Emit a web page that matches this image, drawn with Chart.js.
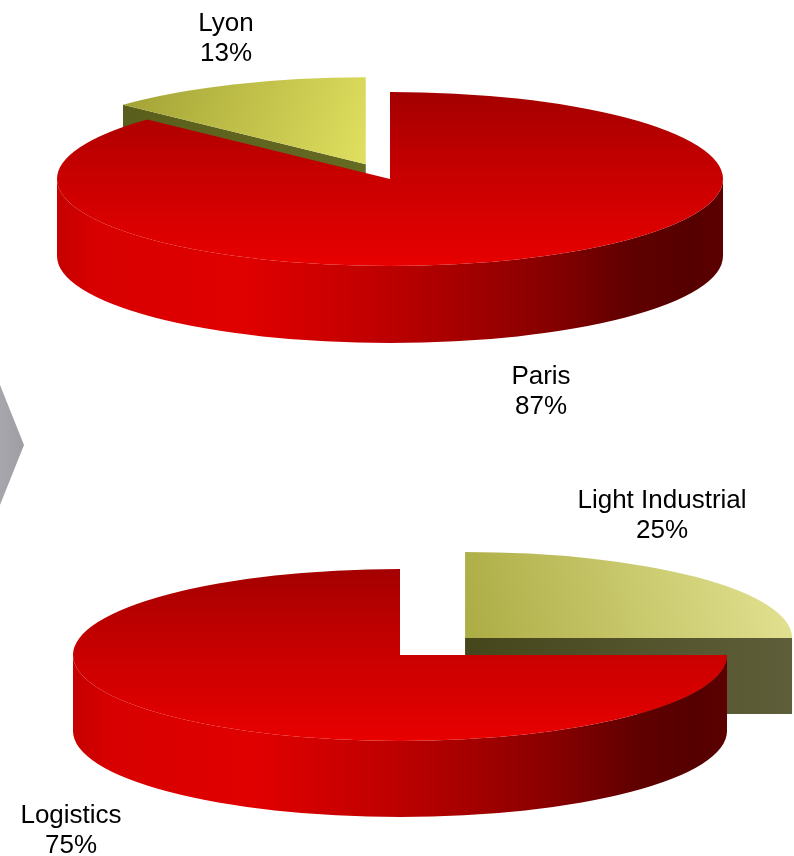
<!DOCTYPE html>
<html>
<head>
<meta charset="utf-8">
<script src="https://cdn.jsdelivr.net/npm/chart.js@4.4.1/dist/chart.umd.min.js"></script>
<style>
    body { margin: 0; background: #fff; }
    #wrap { position: relative; width: 794px; height: 856px; overflow: hidden; }
    canvas { position: absolute; left: 0; }
    #cityChart { top: 0; }
    #typeChart { top: 428px; }
    .chevron {
        position: absolute; left: 0; top: 385px; width: 24px; height: 120px;
        clip-path: polygon(0 0, 100% 50%, 0 100%);
        background: linear-gradient(90deg, #a6a6ac, #9e9ea5);
    }
</style>
</head>
<body>
<div id="wrap">
    <canvas id="cityChart" width="794" height="428"></canvas>
    <canvas id="typeChart" width="794" height="428"></canvas>
    <div class="chevron"></div>
</div>
<script>
// split by city
const cityLabels = ['Paris', 'Lyon'];
const cityShares = [87, 13];
const cityOffsets = [0, 61];

// split by asset type
const typeLabels = ['Light Industrial', 'Logistics'];
const typeShares = [25, 75];
const typeOffsets = [92, 0];

const redShade = {
    top: { from: [0, -1], to: [0, 1], stops: [[0, '#a40000'], [0.45, '#c60000'], [1, '#e80000']] },
    side: [[0, '#c60000'], [0.06, '#d80000'], [0.28, '#e00000'], [0.48, '#c00000'], [0.62, '#a20000'],
           [0.74, '#860000'], [0.86, '#600000'], [0.95, '#550000'], [1, '#5c0000']],
    face: ['#7a0000', '#a00000']
};
const lyonShade = {
    top: { from: [-0.75, -0.9], to: [0, 0.1], stops: [[0, '#a0a034'], [1, '#e0e060']] },
    side: [[0, '#5a5e1e'], [1, '#6a6e26']],
    face: ['#5a5e1c', '#646a22']
};
const lightShade = {
    top: { from: [0, 0.2], to: [1, -0.7], stops: [[0, '#acac44'], [1, '#e2e292']] },
    side: [[0, '#4a4a20'], [1, '#5e5e3a']],
    face: ['#46461c', '#5e5e3a']
};

const labelFont = '26px "Liberation Sans", Arial, sans-serif';

function drawSlice(ctx, sl, geo, shade) {
    const { x, y, s, e } = sl;
    const rx = geo.rx, ry = geo.ry, depth = geo.depth;
    const rim = a => [x + rx * Math.cos(a), y + ry * Math.sin(a)];

    // flat cut faces that turn toward the viewer
    [[s, -Math.cos(s)], [e, Math.cos(e)]].forEach(([a, facing]) => {
        if (facing <= 0.001) return;
        const [px, py] = rim(a);
        ctx.beginPath();
        ctx.moveTo(x, y);
        ctx.lineTo(px, py);
        ctx.lineTo(px, py + depth);
        ctx.lineTo(x, y + depth);
        ctx.closePath();
        const g = ctx.createLinearGradient(Math.min(x, px), 0, Math.max(x, px) + 1, 0);
        g.addColorStop(0, shade.face[0]);
        g.addColorStop(1, shade.face[1]);
        ctx.fillStyle = g;
        ctx.fill();
    });

    // curved outer wall, front half only
    const a0 = Math.max(s, 0), a1 = Math.min(e, Math.PI);
    if (a1 > a0) {
        ctx.beginPath();
        ctx.ellipse(x, y, rx, ry, 0, a0, a1);
        ctx.ellipse(x, y + depth, rx, ry, 0, a1, a0, true);
        ctx.closePath();
        const g = ctx.createLinearGradient(x - rx, 0, x + rx, 0);
        shade.side.forEach(([p, c]) => g.addColorStop(p, c));
        ctx.fillStyle = g;
        ctx.fill();
    }

    // top face
    ctx.beginPath();
    ctx.moveTo(x, y);
    ctx.ellipse(x, y, rx, ry, 0, s, e);
    ctx.closePath();
    const t = shade.top;
    const g = ctx.createLinearGradient(x + t.from[0] * rx, y + t.from[1] * ry, x + t.to[0] * rx, y + t.to[1] * ry);
    t.stops.forEach(([p, c]) => g.addColorStop(p, c));
    ctx.fillStyle = g;
    ctx.fill();
}

const pie3d = {
    id: 'pie3d',
    beforeDatasetsDraw(chart, args, opts) {
        const ctx = chart.ctx;
        const meta = chart.getDatasetMeta(0);
        const ds = chart.data.datasets[0];
        const k = opts.ry / opts.rx;

        const slices = meta.data.map((arc, i) => {
            const mid = (arc.startAngle + arc.endAngle) / 2;
            const off = arc.options.offset || 0;
            return {
                i, mid,
                s: arc.startAngle,
                e: arc.endAngle,
                x: arc.x + Math.cos(mid) * off,
                y: arc.y + Math.sin(mid) * off * k
            };
        });

        // back slices first so the front ones cover them
        slices.sort((a, b) => Math.sin(a.mid) - Math.sin(b.mid));

        ctx.save();
        slices.forEach(sl => drawSlice(ctx, sl, opts, ds.shades[sl.i]));
        ctx.restore();
        return false;
    },
    afterDraw(chart, args, opts) {
        const ctx = chart.ctx;
        const ds = chart.data.datasets[0];
        ctx.save();
        ctx.font = labelFont;
        ctx.fillStyle = '#000';
        ctx.textAlign = 'center';
        ctx.textBaseline = 'alphabetic';
        chart.data.labels.forEach((label, i) => {
            const [lx, ly] = opts.labelAt[i];
            ctx.fillText(label, lx, ly);
            ctx.fillText(ds.data[i] + '%', lx, ly + 30);
        });
        ctx.restore();
    }
};

function makePie(id, labels, shares, offsets, shades, padding, geo) {
    const ctx = document.getElementById(id).getContext('2d');
    return new Chart(ctx, {
        type: 'pie',
        data: {
            labels: labels,
            datasets: [{
                data: shares,
                offset: offsets,
                shades: shades,
                backgroundColor: shades.map(s => s.top.stops[s.top.stops.length - 1][1]),
                borderWidth: 0
            }]
        },
        options: {
            responsive: false,
            animation: false,
            events: [],
            layout: { padding: padding },
            plugins: {
                legend: { display: false },
                tooltip: { enabled: false },
                pie3d: geo
            }
        },
        plugins: [pie3d]
    });
}

document.addEventListener('DOMContentLoaded', () => {
    makePie('cityChart', cityLabels, cityShares, cityOffsets, [redShade, lyonShade],
        { left: 0, right: 14, top: 0, bottom: 70 },
        { rx: 333, ry: 87, depth: 77, labelAt: [[541, 384], [226, 31]] });

    makePie('typeChart', typeLabels, typeShares, typeOffsets, [lightShade, redShade],
        { left: 6, right: 0, top: 26, bottom: 0 },
        { rx: 327, ry: 86, depth: 76, labelAt: [[662, 80], [71, 395]] });
});
</script>
</body>
</html>
